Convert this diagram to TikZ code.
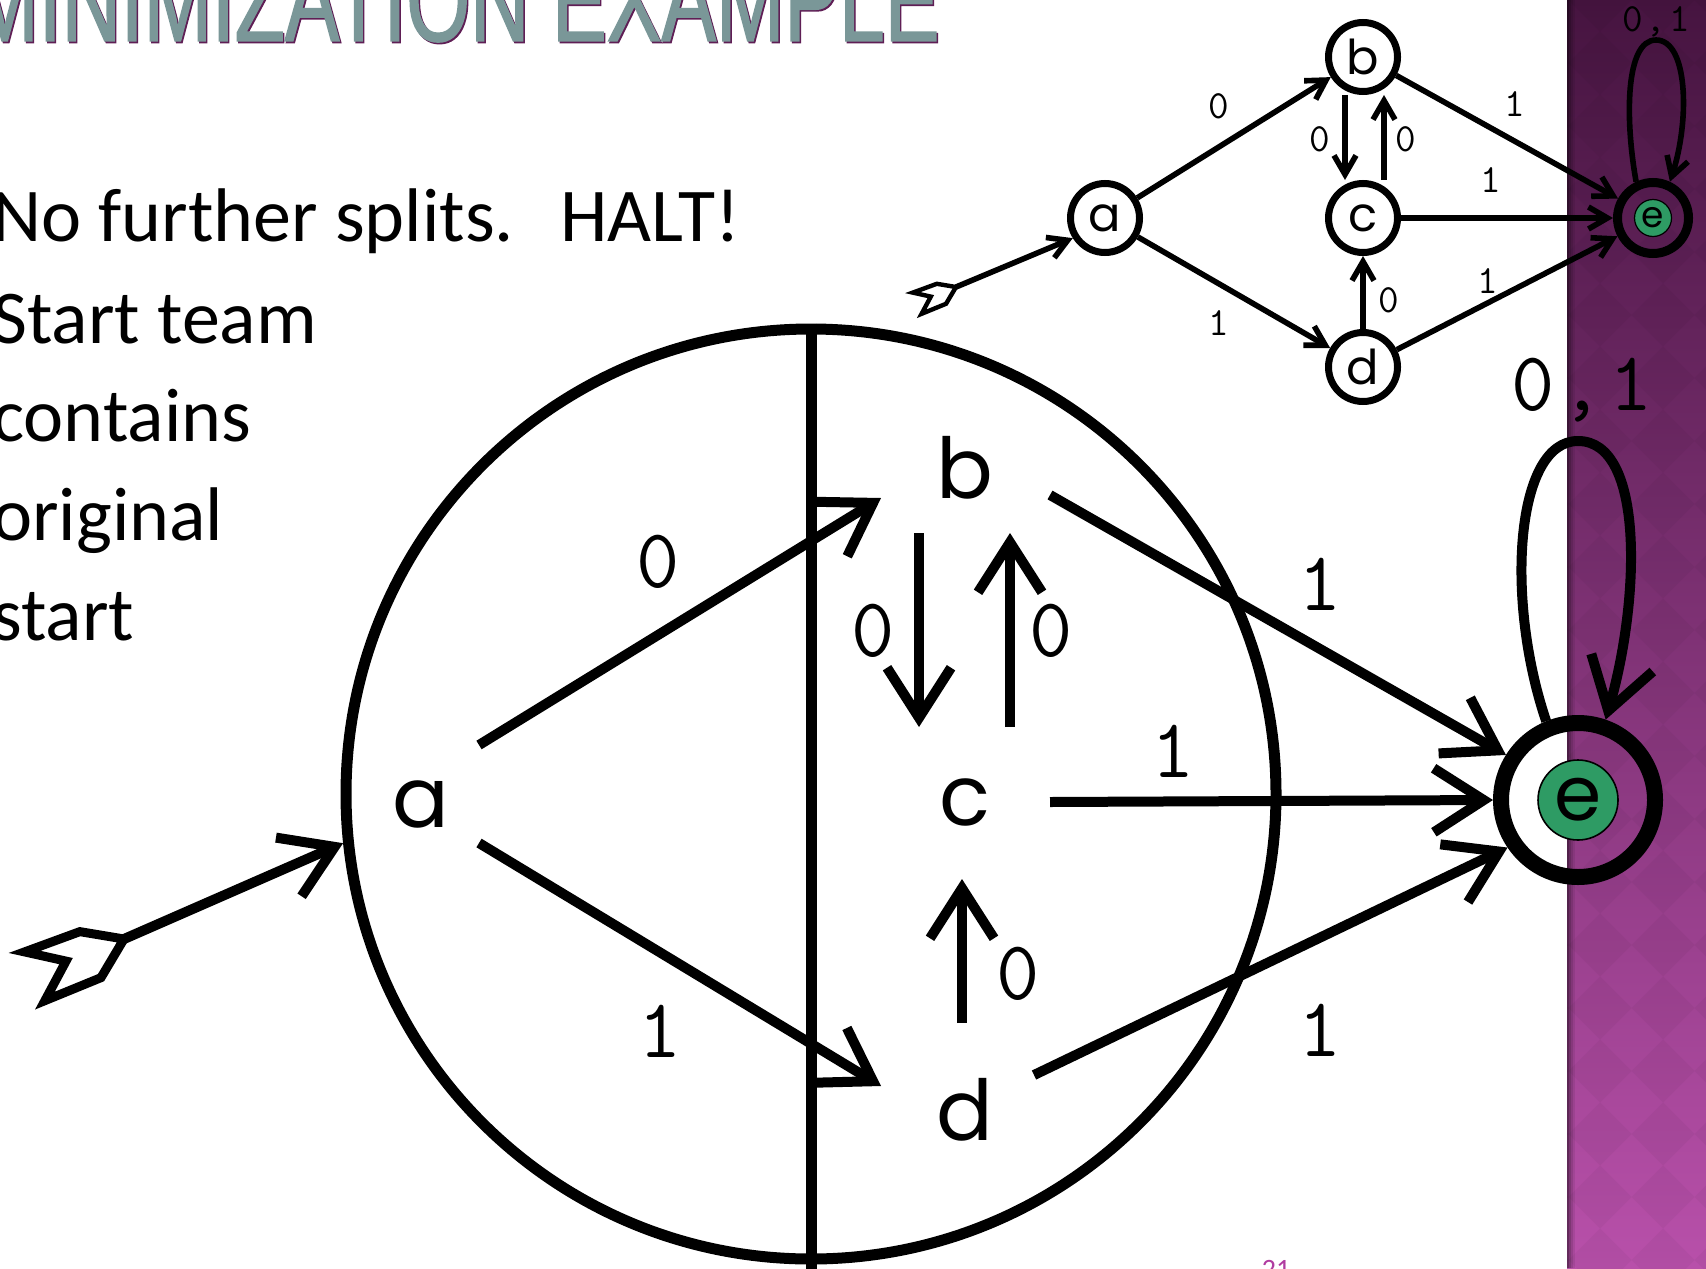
\documentclass[tikz,border=0pt]{standalone}
\usepackage{fontspec}
\setmainfont{Carlito}
\newfontfamily\titlefont[FakeStretch=0.695,FakeBold=1.2]{Liberation Sans}
\newfontfamily\geofont{Poppins}
\usetikzlibrary{arrows.meta,calc}
\definecolor{titlegrey}{RGB}{122,151,152}
\definecolor{titleline}{RGB}{95,30,85}
\definecolor{bandtop}{RGB}{70,20,64}
\definecolor{bandmid}{RGB}{125,45,112}
\definecolor{bandbot}{RGB}{184,80,170}
\definecolor{stategreen}{RGB}{46,155,100}
\definecolor{pagenum}{RGB}{176,60,160}
\tikzset{
  bigline/.style={line width=5.5pt},
  bigarr/.style={line width=5pt,-{Straight Barb[length=25pt,width=32pt,sharp]}},
  smallarr/.style={line width=2.8pt,-{Straight Barb[length=9.5pt,width=11pt,sharp]}},
  bigletter/.style={font=\geofont\fontsize{42}{44}\selectfont, inner sep=0pt},
  biglbl/.style={font=\ttfamily\fontsize{42}{44}\selectfont, inner sep=0pt},
  smalllbl/.style={font=\ttfamily\fontsize{20}{22}\selectfont, inner sep=0pt},
  smallstate/.style={circle, draw, line width=3.5pt, minimum size=34.5pt, inner sep=0pt, font=\geofont\fontsize{24}{26}\selectfont},
  bodytext/.style={anchor=base west, inner sep=0pt, font=\fontsize{38}{46}\selectfont},
  fletch/.style={draw, fill=white, line width=4.5pt, line join=miter},
  titletext/.style={anchor=base west, inner sep=0pt, font=\titlefont\fontsize{59}{62}\selectfont},
}
\begin{document}
\begin{tikzpicture}[x=0.5pt,y=-0.5pt]
\useasboundingbox (0,0) rectangle (1706,1268);
\clip (0,0) rectangle (1706,1268);
% backgrounds
\fill[white] (0,0) rectangle (1567,1268);
\shade[top color=bandtop, middle color=bandmid, bottom color=bandbot] (1567,0) rectangle (1706,1268);
\begin{scope}
  \clip (1567,0) rectangle (1706,1268);
  \foreach \m in {-1,0,1,2}
    \foreach \n in {0,...,21}
      \fill[black,opacity=0.035] (1600+63*\m,63*\n-31.5) -- ++(31.5,31.5) -- ++(-31.5,31.5) -- ++(-31.5,-31.5) -- cycle;
\end{scope}
\foreach \i/\o in {0/0.45,2/0.3,4/0.18,6/0.08}
  \fill[black,opacity=\o] (1567+\i,0) rectangle (1569+\i,1268);

% title
\node[titletext, text=titleline] (titleshadow) at (-28.5,42.6) {MINIMIZATION EXAMPLE};
\node[titletext, text=titlegrey] (title) at (-30,41) {MINIMIZATION EXAMPLE};

% body text
\node[bodytext] (l1) at (-8,241) {No further splits.\ \ \hspace{6pt}HALT!};
\node[bodytext] (l2) at (-8,343) {Start team};
\node[bodytext] (l3) at (-8,441) {contains};
\node[bodytext] (l4) at (-8,540) {original};
\node[bodytext] (l5) at (-8,640) {start};

% ---------- big diagram ----------
\node[circle, draw, line width=5.5pt, minimum size=465pt, inner sep=0pt] (team) at (811,794) {};
\coordinate (vbot) at (811,1290);
\draw[bigline] (team.north) -- (vbot);

\node[bigletter] (a) at (421,804) {a};
\node[bigletter] (b) at (965,468) {b};
\node[bigletter] (c) at (965,802) {c};
\node[bigletter] (d) at (965,1110) {d};
\node[circle, draw, line width=8pt, minimum size=77pt, inner sep=0pt] (e) at (1578,800) {};
\node[circle, draw, line width=0.8pt, fill=stategreen, minimum size=40pt, inner sep=0pt,
      font=\geofont\fontsize{38}{40}\selectfont] (ein) at (e.center) {e};

\draw[bigarr] ($(a.center)+(58,-59)$) -- ($(b.center)+(-84,30)$);
\draw[bigarr] ($(a.center)+(58,39)$) -- ($(d.center)+(-84,-24)$);
\draw[bigarr] ($(b.center)+(-46,65)$) -- ($(c.center)+(-46,-75)$);
\draw[bigarr] ($(c.center)+(45,-75)$) -- ($(b.center)+(45,65)$);
\draw[bigarr] ($(d.center)+(-3,-87)$) -- ($(c.center)+(-3,77)$);
\draw[bigarr] ($(b.center)+(85,27)$) -- (e.148);
\draw[bigarr] ($(c.center)+(85,0)$) -- (e.180);
\draw[bigarr] ($(d.center)+(69,-35)$) -- (e.214);
\draw[bigarr] (e.112) .. controls (1505,600) and (1515,441) .. (1578,441)
                      .. controls (1645,441) and (1640,600) .. (e.71);

% start arrow (big)
\coordinate (st) at (124,939);
\draw[fletch, shift={(124,939)}, scale=0.92] (-108,14) -- (-48,-8) -- (0,0) -- (-25,42) -- (-86,67) -- (-63,24) -- cycle;
\draw[bigarr] (st) -- (team.186);

% big labels
\node[biglbl] (la0) at (658,562) {0};
\node[biglbl] (la1) at (660,1031) {1};
\node[biglbl] (lbc) at (873,631) {0};
\node[biglbl] (lcb) at (1051,631) {0};
\node[biglbl] (ldc) at (1018,974) {0};
\node[biglbl] (lbe) at (1320,584) {1};
\node[biglbl] (lce) at (1173,751) {1};
\node[biglbl] (lde) at (1320,1030) {1};
\node[biglbl, anchor=base] (lee) at (1582,410) {0\hspace{3pt},\hspace{3pt}1};

% ---------- small diagram ----------
\node[smallstate] (a2) at (1105,218) {a};
\node[smallstate] (b2) at (1363,57) {b};
\node[smallstate] (c2) at (1363,218) {c};
\node[smallstate] (d2) at (1363,367) {d};
\node[circle, draw, line width=4.5pt, minimum size=35.5pt, inner sep=0pt] (e2) at (1653,218) {};
\node[circle, draw, line width=0.6pt, fill=stategreen, minimum size=18.5pt, inner sep=0pt,
      font=\geofont\fontsize{18}{20}\selectfont] (e2in) at (e2.center) {e};

\draw[smallarr] (a2) -- (b2);
\draw[smallarr] (a2) -- (d2);
\draw[smallarr] ([xshift=-9pt]b2.south) -- ([xshift=-9pt]c2.north);
\draw[smallarr] ([xshift=10.5pt]c2.north) -- ([xshift=10.5pt]b2.south);
\draw[smallarr] (d2) -- (c2);
\draw[smallarr] (b2) -- (e2);
\draw[smallarr] (c2) -- (e2);
\draw[smallarr] (d2) -- (e2);
\draw[smallarr] (e2.115) .. controls (1625,120) and (1625,40) .. (1656,40)
                       .. controls (1688,40) and (1690,120) .. (e2.65);

% start arrow (small)
\coordinate (st2) at (956,287);
\draw[fletch, line width=2.2pt, shift={(956,287)}, scale=0.4] (-108,14) -- (-48,-8) -- (0,0) -- (-25,42) -- (-86,67) -- (-63,24) -- cycle;
\draw[smallarr] (st2) -- (a2.212);

% small labels
\node[smalllbl] (sa0) at (1219,106) {0};
\node[smalllbl] (sa1) at (1219,323) {1};
\node[smalllbl] (sbc) at (1320,139) {0};
\node[smalllbl] (scb) at (1406,139) {0};
\node[smalllbl] (sbe) at (1515,104) {1};
\node[smalllbl] (sce) at (1491,180) {1};
\node[smalllbl] (sde) at (1488,281) {1};
\node[smalllbl] (sdc) at (1389,300) {0};
\node[smalllbl, anchor=base] (see) at (1656,32) {0\hspace{1.5pt},\hspace{1.5pt}1};

% page number
\node[anchor=base, inner sep=0pt, text=pagenum, font=\fontsize{14}{16}\selectfont] (pg) at (1276,1278) {21};
\end{tikzpicture}
\end{document}
